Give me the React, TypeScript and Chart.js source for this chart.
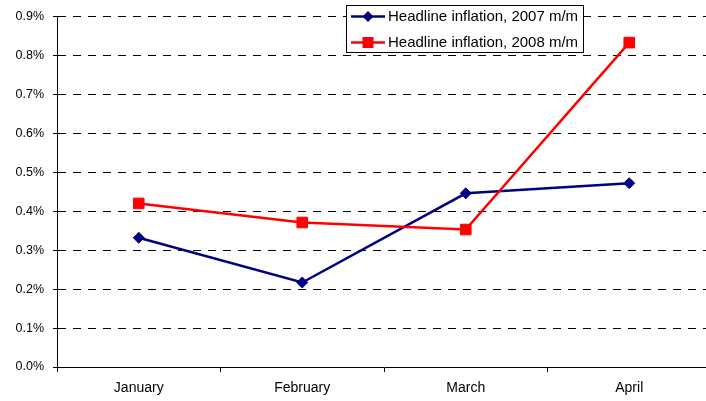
import React, { useEffect, useRef } from "react";
import { Chart, registerables } from "chart.js";

Chart.register(...registerables);

const months = ["January", "February", "March", "April"];
const series2007 = [0.332, 0.217, 0.446, 0.472];
const series2008 = [0.42, 0.371, 0.353, 0.833];
const label2007 = "Headline inflation, 2007 m/m";
const label2008 = "Headline inflation, 2008 m/m";
const yTicks = [0, 0.1, 0.2, 0.3, 0.4, 0.5, 0.6, 0.7, 0.8, 0.9];

const FONT = "'Liberation Sans', Arial, sans-serif";

const boxLegend = {
  id: "boxLegend",
  afterDraw(chart: any) {
    const ctx = chart.ctx;
    const x0 = 346.5, y0 = 5.5, w = 237, h = 47;
    ctx.save();
    ctx.fillStyle = "#fff";
    ctx.fillRect(x0, y0, w, h);
    ctx.strokeStyle = "#000";
    ctx.lineWidth = 1;
    ctx.setLineDash([]);
    ctx.strokeRect(x0, y0, w, h);
    const rowsY = [16.5, 42.5];
    chart.data.datasets.forEach((ds: any, i: number) => {
      const y = rowsY[i];
      ctx.strokeStyle = ds.borderColor;
      ctx.lineWidth = ds.borderWidth;
      ctx.beginPath();
      ctx.moveTo(351, y);
      ctx.lineTo(385, y);
      ctx.stroke();
      ctx.fillStyle = ds.pointBackgroundColor;
      ctx.beginPath();
      if (ds.pointStyle === "rectRot") {
        const r = 5.5;
        ctx.moveTo(368 - r, y);
        ctx.lineTo(368, y - r);
        ctx.lineTo(368 + r, y);
        ctx.lineTo(368, y + r);
        ctx.closePath();
      } else {
        ctx.rect(368 - 5.5, y - 5.5, 11, 11);
      }
      ctx.fill();
      ctx.fillStyle = "#000";
      ctx.font = `15px ${FONT}`;
      ctx.textAlign = "left";
      ctx.textBaseline = "middle";
      ctx.fillText(ds.label, 388, y + 0.5);
    });
    ctx.restore();
  },
};

export default function App() {
  const ref = useRef<HTMLCanvasElement | null>(null);
  useEffect(() => {
    if (!ref.current) return;
    const chart = new Chart(ref.current, {
      type: "line",
      data: {
        labels: months,
        datasets: [
          {
            label: label2007,
            data: series2007,
            borderColor: "#000080",
            backgroundColor: "#000080",
            pointBackgroundColor: "#000080",
            pointBorderColor: "#000080",
            borderWidth: 2.5,
            pointStyle: "rectRot",
            pointRadius: 5.5,
            pointBorderWidth: 1,
            tension: 0,
            order: 1,
          },
          {
            label: label2008,
            data: series2008,
            borderColor: "#ff0000",
            backgroundColor: "#ff0000",
            pointBackgroundColor: "#ff0000",
            pointBorderColor: "#ff0000",
            borderWidth: 2.5,
            pointStyle: "rect",
            pointRadius: 7.5,
            pointBorderWidth: 1,
            tension: 0,
            order: 0,
          },
        ],
      },
      options: {
        animation: false,
        responsive: false,
        maintainAspectRatio: false,
        devicePixelRatio: 1,
        layout: {
          autoPadding: false,
          padding: { top: 14, right: 1, left: 0, bottom: 0 },
        },
        plugins: { legend: { display: false }, tooltip: { enabled: false } },
        scales: {
          x: {
            offset: true,
            afterFit: (s: any) => {
              s.height = 34;
            },
            grid: {
              offset: true,
              drawOnChartArea: false,
              drawTicks: true,
              tickLength: 5,
              tickColor: "#000",
              tickWidth: 1,
            },
            border: { display: true, color: "#000", width: 1 },
            ticks: {
              color: "#000",
              font: { family: FONT, size: 14 },
              padding: 8,
              maxRotation: 0,
            },
          },
          y: {
            min: 0,
            max: 0.9,
            afterFit: (s: any) => {
              s.width = 57;
            },
            afterBuildTicks: (s: any) => {
              s.ticks = yTicks.map((v) => ({ value: v }));
            },
            grid: {
              color: "#000",
              lineWidth: 1,
              drawTicks: true,
              tickLength: 4,
              tickColor: "#000",
              tickWidth: 1,
              tickBorderDash: [],
            } as any,
            border: { display: true, color: "#000", width: 1, dash: [8, 7] },
            ticks: {
              color: "#000",
              font: { family: FONT, size: 12.5 },
              padding: 9,
              callback: (v: any) => Number(v).toFixed(1) + "%",
            },
          },
        },
      },
      plugins: [boxLegend],
    } as any);
    return () => chart.destroy();
  }, []);
  return (
    <div
      style={{
        position: "absolute",
        left: 0,
        top: 0,
        width: 706,
        height: 401,
        overflow: "hidden",
        background: "#fff",
      }}
    >
      <div style={{ position: "relative", width: 712, height: 401 }}>
        <canvas
          ref={ref}
          width={712}
          height={401}
          style={{ display: "block", width: 712, height: 401 }}
        />
      </div>
    </div>
  );
}
